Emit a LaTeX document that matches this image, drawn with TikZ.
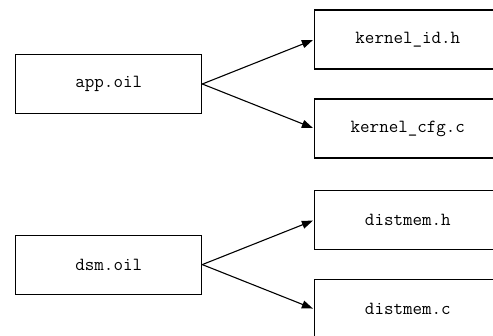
\documentclass[tikz,border=0pt]{standalone}
\usepackage{fontspec}
\usetikzlibrary{
    positioning,
    arrows.meta
}

\begin{document}
\begin{tikzpicture}[
    file/.style={
        draw, rectangle, minimum height=59pt, minimum width=186pt,
        inner sep=0pt, align=center, line width=1.1pt,
        font=\ttfamily\fontsize{18.5}{21}\selectfont
    },
    arrow/.style={-{Triangle[length=11pt,width=8pt]}, line width=1.1pt, shorten >=1.5pt}
]

% Page frame
\path[use as bounding box, clip] (0,0) rectangle (493pt,-336pt);

% ============================== APP ==============================
\node[file] (app_oil) at (108.75pt,-84pt) {app.oil};
\node[file, right=112pt of app_oil, yshift=44.5pt] (kernel_id) {kernel\_id.h};
\node[file, right=112pt of app_oil, yshift=-44.5pt] (kernel_cfg) {kernel\_cfg.c};

\draw[arrow] (app_oil.east) -- (kernel_id.west);
\draw[arrow] (app_oil.east) -- (kernel_cfg.west);

% ============================== DSM ==============================
\node[file, below=120.5pt of app_oil] (dsm_oil) {dsm.oil};
\node[file, right=112pt of dsm_oil, yshift=44.5pt] (distmem_h) {distmem.h};
\node[file, right=112pt of dsm_oil, yshift=-44.5pt] (distmem_c) {distmem.c};

\draw[arrow] (dsm_oil.east) -- (distmem_h.west);
\draw[arrow] (dsm_oil.east) -- (distmem_c.west);

\end{tikzpicture}
\end{document}
